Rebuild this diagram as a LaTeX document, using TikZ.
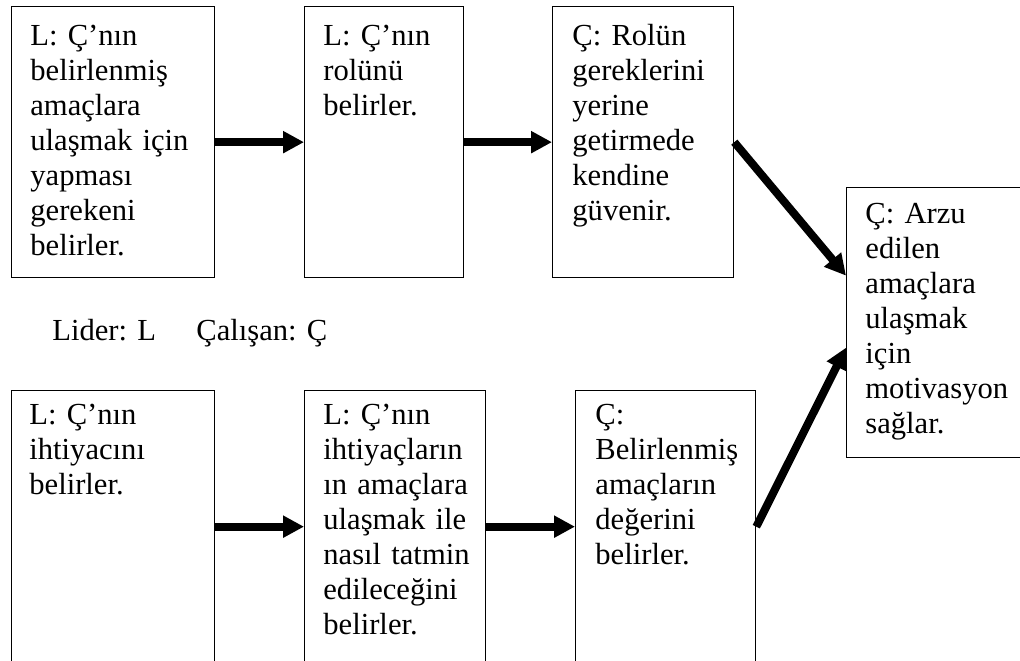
\documentclass[tikz,border=0pt]{standalone}
\usepackage{fontspec}
\setmainfont{Liberation Serif}
\usetikzlibrary{arrows.meta}

\begin{document}
\frenchspacing
\begin{tikzpicture}[x=0.5pt,y=-0.5pt,
  kutu/.style={draw,line width=0.65pt,anchor=north west,inner sep=0pt,minimum height=135.5pt},
  yazi/.style={anchor=base west,inner sep=0pt,align=left,text width=130pt,font=\fontsize{15.3pt}{17.5pt}\selectfont\frenchspacing},
  ok/.style={line width=4pt,-{Triangle[length=10.5pt,width=10.5pt]}}]
\useasboundingbox (0,0) rectangle (1020,660);
\clip (0,0) rectangle (1020,660);
% top row
\node[kutu,minimum width=101.5pt] (b1) at (11,6) {};
\node[kutu,minimum width=79.5pt] (b2) at (304,6) {};
\node[kutu,minimum width=90.5pt] (b3) at (552,6) {};
% right box
\node[kutu,minimum width=95pt,minimum height=135pt] (b4) at (846,187) {};
% bottom row
\node[kutu,minimum width=101.5pt,minimum height=136pt] (b5) at (11,390) {};
\node[kutu,minimum width=90.5pt,minimum height=136pt] (b6) at (304,390) {};
\node[kutu,minimum width=90pt,minimum height=136pt] (b7) at (575,390) {};
% texts
\node[yazi] (t1) at ([shift={(19,39)}]b1.north west) {L: Ç’nın\\belirlenmiş\\amaçlara\\ulaşmak için\\yapması\\gerekeni\\belirler.};
\node[yazi] (t2) at ([shift={(19,39)}]b2.north west) {L: Ç’nın\\rolünü\\belirler.};
\node[yazi] (t3) at ([shift={(20,39)}]b3.north west) {Ç: Rolün\\gereklerini\\yerine\\getirmede\\kendine\\güvenir.};
\node[yazi] (t4) at ([shift={(19,36)}]b4.north west) {Ç: Arzu\\edilen\\amaçlara\\ulaşmak\\için\\motivasyon\\sağlar.};
\node[yazi] (t5) at ([shift={(18,34)}]b5.north west) {L: Ç’nın\\ihtiyacını\\belirler.};
\node[yazi] (t6) at ([shift={(19,34)}]b6.north west) {L: Ç’nın\\ihtiyaçların\\ın amaçlara\\ulaşmak ile\\nasıl tatmin\\edileceğini\\belirler.};
\node[yazi] (t7) at ([shift={(20,34)}]b7.north west) {Ç:\\Belirlenmiş\\amaçların\\değerini\\belirler.};
% legend
\node[yazi] (lider) at (52,340) {Lider: L};
\node[yazi] (calisan) at (196,340) {Çalışan: Ç};
% arrows
\draw[ok] (b1.east) -- (b2.west);
\draw[ok] (b2.east) -- (b3.west);
\draw[ok] (b5.east) -- (b6.west);
\draw[ok] (b6.east) -- (b7.west);
\draw[ok] (b3.east) -- ([yshift=23.5pt]b4.west);
\draw[ok] (b7.east) -- ([yshift=-12.5pt]b4.west);
\end{tikzpicture}
\end{document}
